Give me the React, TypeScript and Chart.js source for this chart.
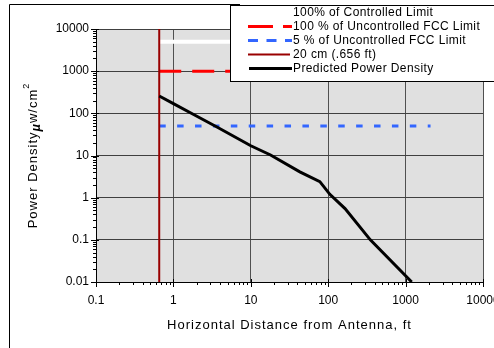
import React, { useEffect, useRef } from 'react';
import { Chart, registerables } from 'chart.js';

Chart.register(...registerables);

// ---- data ----
const distanceFt = [0.656, 1, 1.8, 3.6, 10, 18, 43, 78, 105, 165, 350, 1200];
const predictedDensity = [258, 170, 95, 48, 17, 10.3, 4.1, 2.4, 1.2, 0.55, 0.1, 0.01];
const limitRangeFt = [0.656, 2100];
const controlledLimit = [5000, 5000];
const uncontrolledLimit = [1000, 1000];
const fivePctLimit = [50, 50];
const cutoffFt = [0.656, 0.656];
const cutoffRange = [0.01, 10000];
const legendLabels = [
  '100% of Controlled Limit',
  '100 % of Uncontrolled FCC Limit',
  '5 % of Uncontrolled FCC Limit',
  '20 cm (.656 ft)',
  'Predicted Power Density',
];
const xTickValues = [0.1, 1, 10, 100, 1000, 10000];
const xTickLabels = ['0.1', '1', '10', '100', '1000', '10000'];
const yTickValues = [0.01, 0.1, 1, 10, 100, 1000, 10000];
const yTickLabels = ['0.01', '0.1', '1', '10', '100', '1000', '10000'];
const xTitle = 'Horizontal Distance from Antenna, ft';
const yTitleMain = 'Power Density';
const yTitleMu = 'µ';
const yTitleUnit = 'w/cm';
const yTitleSup = '2';

const FONT = '"Liberation Sans", Arial, sans-serif';

const pairs = (xs: number[], ys: number[]) => xs.map((x, i) => ({ x, y: ys[i] }));

const isDecade = (v: number) => Math.abs(Math.log10(v) - Math.round(Math.log10(v))) < 1e-6;

function logTicks(major: number[]) {
  const out: { value: number; major: boolean }[] = [];
  for (let i = 0; i < major.length; i++) {
    const d = major[i];
    out.push({ value: d, major: true });
    if (i < major.length - 1) {
      for (let m = 2; m <= 9; m++) out.push({ value: +(d * m).toPrecision(6), major: false });
    }
  }
  return out;
}

function labelFor(values: number[], labels: string[], v: number) {
  for (let i = 0; i < values.length; i++) {
    if (Math.abs(values[i] - v) / values[i] < 1e-6) return labels[i];
  }
  return '';
}

const decor = {
  id: 'decor',
  beforeDraw(chart: any) {
    const { ctx, chartArea: a } = chart;
    ctx.save();
    ctx.fillStyle = '#e0e0e0';
    ctx.fillRect(a.left, a.top, a.right - a.left, a.bottom - a.top);
    ctx.restore();
  },
  afterDraw(chart: any) {
    const { ctx, chartArea: a, scales } = chart;
    const xs = scales.x;
    const ys = scales.y;
    ctx.save();
    // tick marks
    ctx.strokeStyle = '#000';
    ctx.lineWidth = 1;
    ctx.beginPath();
    ys.ticks.forEach((t: any) => {
      const p = Math.round(ys.getPixelForValue(t.value)) + 0.5;
      const major = isDecade(t.value);
      ctx.moveTo(a.left - (major ? 5 : 3), p);
      ctx.lineTo(a.left + (major ? 3 : 1), p);
    });
    xs.ticks.forEach((t: any) => {
      const p = Math.round(xs.getPixelForValue(t.value)) + 0.5;
      const major = isDecade(t.value);
      ctx.moveTo(p, a.bottom - (major ? 3 : 0));
      ctx.lineTo(p, a.bottom + (major ? 5 : 3));
    });
    ctx.stroke();

    // outer frame
    ctx.beginPath();
    ctx.moveTo(9.5, 348);
    ctx.lineTo(9.5, 4.5);
    ctx.lineTo(240, 4.5);
    ctx.stroke();

    // x title
    ctx.fillStyle = '#000';
    ctx.font = '13px ' + FONT;
    (ctx as any).letterSpacing = '1px';
    ctx.textAlign = 'center';
    ctx.textBaseline = 'middle';
    ctx.fillText(xTitle, (a.left + a.right) / 2, 325);

    // y title (rotated)
    ctx.save();
    const cy = (a.top + a.bottom) / 2;
    ctx.translate(33, cy);
    ctx.rotate(-Math.PI / 2);
    ctx.textAlign = 'left';
    const wMain = ctx.measureText(yTitleMain).width;
    ctx.font = 'italic bold 13px ' + FONT;
    const wMu = ctx.measureText(yTitleMu).width;
    ctx.font = '13px ' + FONT;
    const wUnit = ctx.measureText(yTitleUnit).width;
    ctx.font = '9px ' + FONT;
    const wSup = ctx.measureText(yTitleSup).width;
    let x = -(wMain + wMu + wUnit + wSup) / 2;
    ctx.font = '13px ' + FONT;
    ctx.fillText(yTitleMain, x, 0);
    x += wMain;
    ctx.font = 'italic bold 13px ' + FONT;
    ctx.fillText(yTitleMu, x, 3);
    x += wMu;
    ctx.font = '13px ' + FONT;
    ctx.fillText(yTitleUnit, x, 0);
    x += wUnit;
    ctx.font = '9px ' + FONT;
    ctx.fillText(yTitleSup, x, -6);
    ctx.restore();

    // legend
    (ctx as any).letterSpacing = '0.4px';
    ctx.fillStyle = '#fff';
    ctx.fillRect(230.5, 5.5, 300, 76);
    ctx.strokeStyle = '#000';
    ctx.lineWidth = 1;
    ctx.strokeRect(230.5, 5.5, 300, 76);
    const rowY = [12, 26, 40, 54, 68];
    const samples = [
      { color: '#ffffff', width: 3, dash: [] as number[], x0: 248, x1: 292 },
      { color: '#ff0000', width: 3, dash: [25, 10], x0: 248, x1: 292 },
      { color: '#3366ff', width: 3, dash: [10, 8.5], x0: 248, x1: 292 },
      { color: '#990000', width: 2, dash: [], x0: 248, x1: 290 },
      { color: '#000000', width: 3, dash: [], x0: 249, x1: 292 },
    ];
    ctx.font = '12px ' + FONT;
    ctx.textAlign = 'left';
    ctx.textBaseline = 'middle';
    legendLabels.forEach((lab, i) => {
      const s = samples[i];
      ctx.beginPath();
      ctx.setLineDash(s.dash);
      ctx.strokeStyle = s.color;
      ctx.lineWidth = s.width;
      ctx.moveTo(s.x0, rowY[i] + 0.5);
      ctx.lineTo(s.x1, rowY[i] + 0.5);
      ctx.stroke();
      ctx.setLineDash([]);
      ctx.fillStyle = '#000';
      ctx.fillText(lab, 293, rowY[i] + 1);
    });
    (ctx as any).letterSpacing = '0px';
    ctx.restore();
  },
};

export default function App() {
  const ref = useRef<HTMLCanvasElement | null>(null);
  useEffect(() => {
    document.body.style.margin = '0';
    const canvas = ref.current;
    if (!canvas) return;
    Chart.defaults.font.family = FONT;
    Chart.defaults.color = '#000';
    const chart = new Chart(canvas, {
      type: 'scatter',
      data: {
        datasets: [
          {
            label: legendLabels[4],
            data: pairs(distanceFt, predictedDensity),
            showLine: true,
            borderColor: '#000000',
            borderWidth: 3,
            pointRadius: 0,
            tension: 0,
          },
          {
            label: legendLabels[3],
            data: pairs(cutoffFt, cutoffRange),
            showLine: true,
            borderColor: '#990000',
            borderWidth: 2,
            pointRadius: 0,
          },
          {
            label: legendLabels[2],
            data: pairs(limitRangeFt, fivePctLimit),
            showLine: true,
            borderColor: '#3366ff',
            borderWidth: 3,
            borderDash: [6.5, 11.4],
            pointRadius: 0,
          },
          {
            label: legendLabels[1],
            data: pairs(limitRangeFt, uncontrolledLimit),
            showLine: true,
            borderColor: '#ff0000',
            borderWidth: 3,
            borderDash: [22, 11],
            pointRadius: 0,
          },
          {
            label: legendLabels[0],
            data: pairs(limitRangeFt, controlledLimit),
            showLine: true,
            borderColor: '#ffffff',
            borderWidth: 4,
            pointRadius: 0,
          },
        ],
      },
      options: {
        responsive: false,
        animation: false,
        devicePixelRatio: 1,
        layout: { padding: { left: 0, top: 29, right: 11, bottom: 0 } },
        plugins: { legend: { display: false }, tooltip: { enabled: false } },
        scales: {
          x: {
            type: 'logarithmic',
            min: 0.1,
            max: 10000,
            afterBuildTicks: (s: any) => {
              s.ticks = logTicks(xTickValues);
            },
            afterFit: (s: any) => {
              s.height = 66;
              s.paddingLeft = 0;
              s.paddingRight = 0;
            },
            grid: {
              drawTicks: false,
              color: (c: any) => (c.tick && isDecade(c.tick.value) ? '#505050' : 'rgba(0,0,0,0)'),
              lineWidth: 1,
            },
            border: { color: '#000', width: 1 },
            ticks: {
              autoSkip: false,
              maxRotation: 0,
              minRotation: 0,
              padding: 11,
              font: { size: 12 },
              callback: (v: any) => labelFor(xTickValues, xTickLabels, Number(v)),
            },
          },
          y: {
            type: 'logarithmic',
            min: 0.01,
            max: 10000,
            afterBuildTicks: (s: any) => {
              s.ticks = logTicks(yTickValues);
            },
            afterFit: (s: any) => {
              s.width = 96;
              s.paddingTop = 0;
              s.paddingBottom = 0;
            },
            grid: {
              drawTicks: false,
              color: (c: any) => (c.tick && isDecade(c.tick.value) ? '#404040' : 'rgba(0,0,0,0)'),
              lineWidth: 1,
            },
            border: { color: '#000', width: 1 },
            ticks: {
              autoSkip: false,
              padding: 7,
              font: { size: 12 },
              callback: (v: any) => labelFor(yTickValues, yTickLabels, Number(v)),
            },
          },
        },
      },
      plugins: [decor],
    } as any);
    return () => chart.destroy();
  }, []);
  return (
    <div style={{ width: 494, height: 348, position: 'relative' }}>
      <canvas ref={ref} width={494} height={348} style={{ display: 'block' }} />
    </div>
  );
}
